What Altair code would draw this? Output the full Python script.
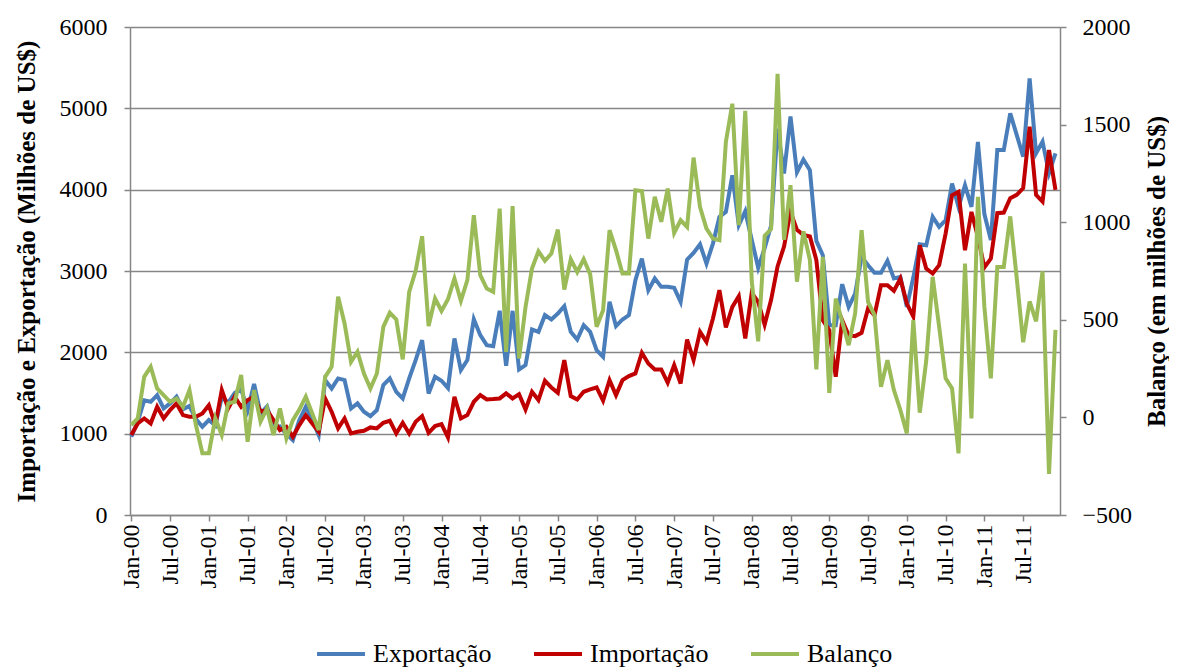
import json
import altair as alt
import pandas as pd

anos = list(range(2000, 2012))
nomes_meses = ["Jan", "Fev", "Mar", "Abr", "Mai", "Jun", "Jul", "Ago", "Set", "Out", "Nov", "Dez"]
meses = [f"{m}-{str(a)[2:]}" for a in anos for m in nomes_meses]
rotulos_x = [f"{m}-{str(a)[2:]}" for a in anos for m in ("Jan", "Jul")]

exportacao = [
    962, 1150, 1410, 1392, 1474, 1310, 1372, 1454, 1300, 1340,
    1180, 1085, 1167, 1100, 1446, 1382, 1500, 1548, 1288, 1610,
    1248, 1336, 1077, 1090, 995, 921, 1167, 1331, 1167, 983,
    1658, 1556, 1679, 1658, 1310, 1372, 1270, 1216, 1290, 1597,
    1679, 1515, 1433, 1679, 1904, 2150, 1495, 1700, 1650, 1560,
    2170, 1781, 1904, 2408, 2211, 2088, 2076, 2510, 1835, 2510,
    1790, 1843, 2281, 2252, 2457, 2404, 2477, 2568, 2252, 2158,
    2334, 2252, 2027, 1945, 2621, 2322, 2404, 2457, 2887, 3153,
    2764, 2908, 2805, 2805, 2793, 2621, 3140, 3222, 3329, 3092,
    3337, 3665, 3726, 4177, 3563, 3735, 3385, 3040, 3280, 3560,
    4750, 4200, 4900, 4215, 4370, 4240, 3370, 3194, 2334, 2334,
    2838, 2559, 2723, 3174, 3071, 2977, 2977, 3124, 2908, 2928,
    2559, 2920, 3329, 3317, 3665, 3542, 3624, 4075, 3788, 4054,
    3788, 4586, 3700, 3380, 4488, 4488, 4939, 4673, 4406, 5368,
    4447, 4591, 4202, 4447,
]

importacao = [
    983, 1126, 1187, 1126, 1331, 1187, 1290, 1372, 1228, 1208,
    1208, 1249, 1351, 1106, 1536, 1310, 1454, 1331, 1413, 1454,
    1270, 1290, 1167, 1044, 1085, 962, 1106, 1228, 1126, 1024,
    1433, 1270, 1065, 1187, 1003, 1024, 1036, 1077, 1065, 1134,
    1159, 1003, 1134, 1003, 1147, 1216, 1011, 1093, 1118, 955,
    1454, 1187, 1228, 1392, 1474, 1421, 1425, 1433, 1495, 1433,
    1486, 1298, 1515, 1413, 1650, 1568, 1503, 1904, 1462, 1421,
    1515, 1544, 1568, 1405, 1658, 1474, 1658, 1708, 1740, 1994,
    1863, 1790, 1790, 1626, 1843, 1617, 2158, 1904, 2252, 2129,
    2416, 2764, 2305, 2559, 2690, 2170, 2730, 2620, 2340, 2646,
    3056, 3301, 3730, 3506, 3444, 3424, 3135, 2395, 2273, 1700,
    2395, 2211, 2199, 2240, 2539, 2457, 2826, 2826, 2756, 2908,
    2600, 2440, 3317, 3030, 2969, 3071, 3460, 3931, 3972, 3256,
    3726, 3419, 3043, 3153, 3711, 3719, 3895, 3936, 4018, 4775,
    3936, 3854, 4488, 3997,
]

balanco = [
    -39, -5, 208, 259, 148, 114, 80, 97, 55, 140,
    -39, -184, -184, -5, -90, 72, 80, 217, -125, 140,
    -22, 46, -90, 46, -108, -14, 40, 106, 20, -65,
    208, 259, 618, 481, 285, 336, 225, 148, 225, 464,
    536, 502, 297, 643, 751, 928, 468, 609, 545, 605,
    712, 597, 703, 1036, 729, 660, 643, 1070, 336, 1083,
    302, 566, 763, 851, 802, 839, 962, 655, 810, 745,
    810, 734, 464, 549, 959, 857, 737, 737, 1164, 1160,
    916, 1130, 1002, 1172, 945, 1010, 976, 1331, 1078, 967,
    916, 908, 1411, 1607, 985, 1570, 700, 390, 930, 965,
    1760, 910, 1190, 695, 953, 806, 246, 822, 126, 609,
    490, 370, 532, 959, 592, 524, 157, 293, 140, 38,
    -82, 498, 24, 290, 720, 464, 200, 148, -184, 788,
    -5, 1130, 566, 200, 771, 771, 1030, 715, 385, 594,
    492, 748, -290, 448,
]

series = ["Exportação", "Importação", "Balanço"]
cores = ["#4A7EBB", "#C00000", "#9BBB59"]
ticks_esq = [0, 1000, 2000, 3000, 4000, 5000, 6000]
ticks_dir = [-500, 0, 500, 1000, 1500, 2000]

df = pd.DataFrame({
    "idx": list(range(len(meses))),
    "mes": meses,
    "Exportação": exportacao,
    "Importação": importacao,
    "Balanço": balanco,
})
longo = df.melt(id_vars=["idx", "mes"], value_vars=series, var_name="serie", value_name="valor")

FONTE = "Liberation Serif"
CINZA = "#868686"

label_expr = json.dumps(rotulos_x) + "[round(datum.value / 6)]"

x_enc = alt.X(
    "idx:Q",
    scale=alt.Scale(domain=[-0.2, 143.7], nice=False, zero=False),
    axis=alt.Axis(
        values=list(range(0, 139, 6)),
        labelExpr=label_expr,
        labelAngle=270,
        labelFont=FONTE,
        labelFontSize=24,
        labelColor="black",
        labelPadding=3,
        tickSize=6,
        tickColor=CINZA,
        tickWidth=1.5,
        domainColor=CINZA,
        domainWidth=1.5,
        grid=False,
        title=None,
        labelOverlap=False,
        labelFlush=False,
    ),
)

cor_enc = alt.Color(
    "serie:N",
    scale=alt.Scale(domain=series, range=cores),
    legend=alt.Legend(
        orient="none",
        legendX=185,
        legendY=601,
        direction="horizontal",
        title=None,
        symbolType="stroke",
        symbolStrokeWidth=4,
        symbolSize=2300,
        labelFont=FONTE,
        labelFontSize=26,
        labelColor="black",
        labelOffset=6,
        columnPadding=34,
        labelLimit=300,
    ),
)

eixo_esq = alt.Axis(
    values=ticks_esq,
    format="d",
    title="Importação e Exportação (Milhões de US$)",
    titleFont=FONTE,
    titleFontSize=25,
    titleFontWeight="bold",
    titleColor="black",
    titlePadding=20,
    labelFont=FONTE,
    labelFontSize=24,
    labelColor="black",
    labelPadding=17,
    tickSize=6,
    tickColor=CINZA,
    tickWidth=1.5,
    domainColor=CINZA,
    domainWidth=1.5,
    grid=True,
    gridColor=CINZA,
    gridWidth=1.5,
    orient="left",
)

eixo_dir = alt.Axis(
    values=ticks_dir,
    format="d",
    title="Balanço (em milhões de US$)",
    titleFont=FONTE,
    titleFontSize=25,
    titleFontWeight="bold",
    titleColor="black",
    titleAngle=270,
    titleBaseline="top",
    titlePadding=13,
    labelFont=FONTE,
    labelFontSize=24,
    labelColor="black",
    labelPadding=16,
    tickSize=6,
    tickColor=CINZA,
    tickWidth=1.5,
    domainColor=CINZA,
    domainWidth=1.5,
    grid=False,
    orient="right",
)

y_esq = alt.Y("valor:Q", scale=alt.Scale(domain=[0, 6000], nice=False), axis=eixo_esq)

exp_layer = alt.Chart(longo).transform_filter(
    "datum.serie == 'Exportação'"
).mark_line(strokeWidth=4).encode(x=x_enc, y=y_esq, color=cor_enc)

imp_layer = alt.Chart(longo).transform_filter(
    "datum.serie == 'Importação'"
).mark_line(strokeWidth=4).encode(x=x_enc, y=y_esq, color=cor_enc)

bal_layer = alt.Chart(longo).transform_filter(
    "datum.serie == 'Balanço'"
).mark_line(strokeWidth=4).encode(
    x=x_enc,
    y=alt.Y("valor:Q", scale=alt.Scale(domain=[-500, 2000], nice=False), axis=eixo_dir),
    color=cor_enc,
)

esquerda = alt.layer(exp_layer, imp_layer)

chart = alt.layer(esquerda, bal_layer).resolve_scale(y="independent").properties(
    width=930,
    height=488,
    autosize=alt.AutoSizeParams(type="none"),
    padding={"left": 122, "top": 19, "right": 109, "bottom": 153},
    background="white",
).configure_view(stroke=None)

chart.save("out.html", embed_options={"renderer": "svg", "actions": False})
